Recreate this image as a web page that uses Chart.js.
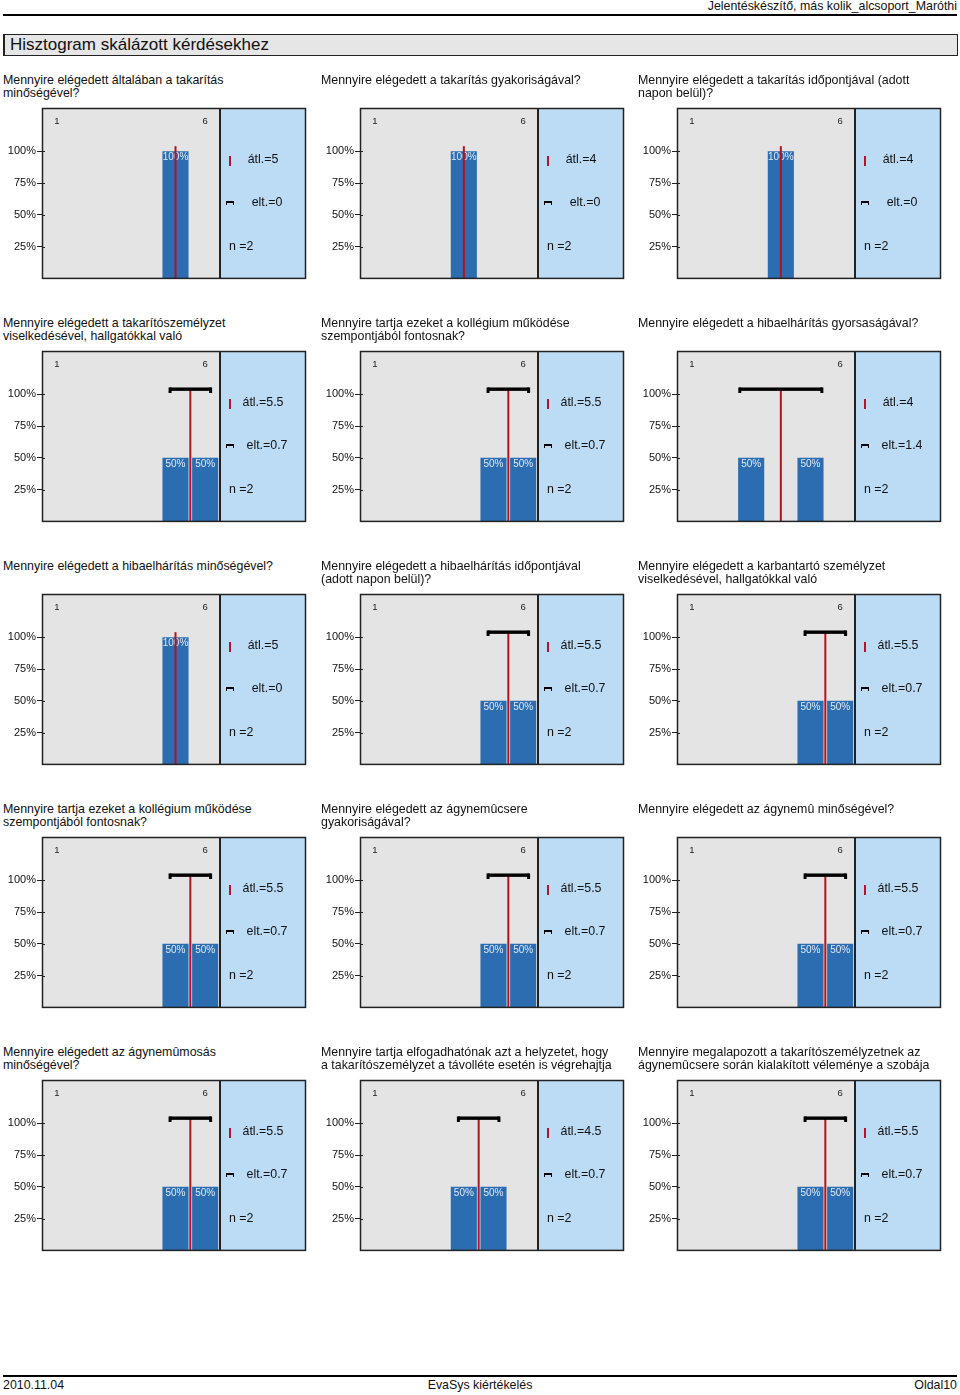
<!DOCTYPE html>
<html>
<head>
<meta charset="utf-8">
<script src="https://cdn.jsdelivr.net/npm/chart.js@4/dist/chart.umd.min.js"></script>
<style>
  body { margin: 0; width: 960px; height: 1395px; background: #fff; position: relative; font-family: 'Liberation Sans', Arial, sans-serif; color: #111; }
  .abs { position: absolute; }
  .panel { position: absolute; width: 318px; height: 230px; }
  .title { position: absolute; left: 3px; top: 0; width: 312px; font-size: 12.4px; line-height: 13px; white-space: pre-line; }
  .stats { position: absolute; left: 220px; top: 34px; width: 86px; height: 172px; font-size: 12.4px; }
  .stats div { position: absolute; }
  .mark { left: 9px; top: 48px; width: 2px; height: 10px; background: #b5122b; }
  .brk { left: 6px; top: 93px; width: 6px; height: 2px; border-top: 2px solid #000; border-left: 1.5px solid #000; border-right: 1.5px solid #000; }
</style>
</head>
<body>
<div class="abs" style="right:3px; top:-1px; font-size:12.4px;">Jelentéskészítő, más kolik_alcsoport_Maróthi</div>
<div class="abs" style="left:3px; top:14px; width:954px; height:2px; background:#000;"></div>
<div class="abs" style="left:3px; top:34px; width:952px; height:20px; background:#e6e6e6; border:1px solid #222; border-left-width:2px;"></div>
<div class="abs" style="left:10px; top:34px; font-size:17px; line-height:22px;">Hisztogram skálázott kérdésekhez</div>

<div class="abs" style="left:3px; top:1375px; width:954px; height:2px; background:#000;"></div>
<div class="abs" style="left:3px; top:1378px; font-size:12.4px;">2010.11.04</div>
<div class="abs" style="left:0; width:960px; text-align:center; top:1378px; font-size:12.4px;">EvaSys kiértékelés</div>
<div class="abs" style="right:3px; top:1378px; font-size:12.4px;">Oldal10</div>

<script>
// question texts, one per panel (reading order)
const titles = [
  'Mennyire elégedett általában a takarítás\nminőségével?',
  'Mennyire elégedett a takarítás gyakoriságával?',
  'Mennyire elégedett a takarítás időpontjával (adott\nnapon belül)?',
  'Mennyire elégedett a takarítószemélyzet\nviselkedésével, hallgatókkal való',
  'Mennyire tartja ezeket a kollégium működése\nszempontjából fontosnak?',
  'Mennyire elégedett a hibaelhárítás gyorsaságával?',
  'Mennyire elégedett a hibaelhárítás minőségével?',
  'Mennyire elégedett a hibaelhárítás időpontjával\n(adott napon belül)?',
  'Mennyire elégedett a karbantartó személyzet\nviselkedésével, hallgatókkal való',
  'Mennyire tartja ezeket a kollégium működése\nszempontjából fontosnak?',
  'Mennyire elégedett az ágynemûcsere\ngyakoriságával?',
  'Mennyire elégedett az ágynemû minőségével?',
  'Mennyire elégedett az ágynemûmosás\nminőségével?',
  'Mennyire tartja elfogadhatónak azt a helyzetet, hogy\na takarítószemélyzet a távolléte esetén is végrehajtja',
  'Mennyire megalapozott a takarítószemélyzetnek az\nágynemûcsere során kialakított véleménye a szobája'
];

const scaleLabels = ['1', '2', '3', '4', '5', '6'];
const yTicks = [25, 50, 75, 100];

// percent of answers per scale point
const pct = [
  [0, 0, 0, 0, 100, 0],
  [0, 0, 0, 100, 0, 0],
  [0, 0, 0, 100, 0, 0],
  [0, 0, 0, 0, 50, 50],
  [0, 0, 0, 0, 50, 50],
  [0, 0, 50, 0, 50, 0],
  [0, 0, 0, 0, 100, 0],
  [0, 0, 0, 0, 50, 50],
  [0, 0, 0, 0, 50, 50],
  [0, 0, 0, 0, 50, 50],
  [0, 0, 0, 0, 50, 50],
  [0, 0, 0, 0, 50, 50],
  [0, 0, 0, 0, 50, 50],
  [0, 0, 0, 50, 50, 0],
  [0, 0, 0, 0, 50, 50]
];
const means = [5, 4, 4, 5.5, 5.5, 4, 5, 5.5, 5.5, 5.5, 5.5, 5.5, 5.5, 4.5, 5.5];
const devs  = [0, 0, 0, 0.7, 0.7, 1.4, 0, 0.7, 0.7, 0.7, 0.7, 0.7, 0.7, 0.7, 0.7];
const ns    = [2, 2, 2, 2, 2, 2, 2, 2, 2, 2, 2, 2, 2, 2, 2];

const colX = [0, 318, 635];
const barColor = '#2c6db2';

const panelPlugin = {
  id: 'panel',
  beforeDraw(chart) {
    const { ctx, chartArea: a, scales } = chart;
    const top = scales.x2.top;
    ctx.save();
    ctx.fillStyle = '#e4e4e4';
    ctx.fillRect(a.left, top, a.right - a.left, a.bottom - top);
    ctx.fillStyle = '#bcdcf6';
    ctx.fillRect(a.right, top, 86, a.bottom - top);
    ctx.restore();
  },
  afterDatasetsDraw(chart, args, opts) {
    const { ctx, chartArea: a, scales } = chart;
    const x = scales.x, y = scales.y;
    const top = scales.x2.top;
    ctx.save();
    // bar percent labels
    ctx.font = '10px "Liberation Sans", Arial';
    ctx.fillStyle = '#dfe9f5';
    ctx.textAlign = 'center';
    ctx.textBaseline = 'middle';
    chart.getDatasetMeta(0).data.forEach((el, i) => {
      const v = chart.data.datasets[0].data[i];
      if (v > 0) ctx.fillText(v + '%', el.x, el.y + 6);
    });
    // mean line
    const m = opts.mean, sd = opts.sd;
    const yTop = y.getPixelForValue(104);
    const xm = x.getPixelForValue(m - 1);
    ctx.strokeStyle = '#b3121f';
    ctx.lineWidth = 2;
    ctx.beginPath();
    ctx.moveTo(xm, a.bottom);
    ctx.lineTo(xm, yTop);
    ctx.stroke();
    // std deviation bracket
    if (sd > 0) {
      const x1 = x.getPixelForValue(m - sd - 1), x2 = x.getPixelForValue(m + sd - 1);
      ctx.fillStyle = '#000';
      ctx.fillRect(x1, yTop - 1.7, x2 - x1, 3.4);
      ctx.fillRect(x1 - 1, yTop - 1.7, 3, 5.5);
      ctx.fillRect(x2 - 2, yTop - 1.7, 3, 5.5);
    }
    // inner tick stubs
    ctx.strokeStyle = '#222';
    ctx.lineWidth = 1;
    yTicks.forEach(t => {
      const ty = Math.round(y.getPixelForValue(t)) + 0.5;
      ctx.beginPath();
      ctx.moveTo(a.left, ty);
      ctx.lineTo(a.left + 3, ty);
      ctx.stroke();
    });
    // borders
    ctx.strokeStyle = '#222';
    ctx.lineWidth = 1.5;
    ctx.strokeRect(a.left + 0.5, top + 0.5, a.right - a.left + 86 - 1, a.bottom - top - 0.5);
    ctx.lineWidth = 2;
    ctx.beginPath();
    ctx.moveTo(a.right, top);
    ctx.lineTo(a.right, a.bottom);
    ctx.stroke();
    ctx.restore();
  }
};

titles.forEach((t, i) => {
  const r = Math.floor(i / 3), c = i % 3;
  const panel = document.createElement('div');
  panel.className = 'panel';
  panel.style.left = colX[c] + 'px';
  panel.style.top = (74 + r * 243) + 'px';

  const title = document.createElement('div');
  title.className = 'title';
  title.textContent = t;
  panel.appendChild(title);

  const cv = document.createElement('canvas');
  cv.width = 310; cv.height = 180;
  cv.style.cssText = 'position:absolute;left:0;top:32px;width:310px;height:180px;';
  panel.appendChild(cv);

  const stats = document.createElement('div');
  stats.className = 'stats';
  stats.innerHTML =
    '<div class="mark"></div>' +
    '<div style="left:0;width:86px;text-align:center;top:44px;">átl.=' + means[i] + '</div>' +
    '<div class="brk"></div>' +
    '<div style="left:4px;width:86px;text-align:center;top:87px;">elt.=' + devs[i] + '</div>' +
    '<div style="left:9px;top:131px;">n =' + ns[i] + '</div>';
  panel.appendChild(stats);
  document.body.appendChild(panel);

  new Chart(cv, {
    type: 'bar',
    data: {
      labels: scaleLabels,
      datasets: [{ data: pct[i], backgroundColor: barColor, barPercentage: 0.88, categoryPercentage: 1 }]
    },
    options: {
      responsive: false,
      animation: false,
      layout: { padding: { top: 2, right: 90, bottom: 6, left: 0 } },
      plugins: {
        legend: { display: false },
        tooltip: { enabled: false },
        panel: { mean: means[i], sd: devs[i] }
      },
      scales: {
        x: { display: false },
        x2: {
          type: 'category',
          labels: scaleLabels,
          position: 'top',
          offset: true,
          grid: { display: false, drawTicks: false },
          border: { display: false },
          ticks: {
            autoSkip: false, maxRotation: 0, padding: 9,
            color: '#222', font: { size: 9.5, family: '"Liberation Sans", Arial' },
            callback: (v, idx) => (idx === 0 || idx === scaleLabels.length - 1) ? scaleLabels[idx] : ''
          },
          afterFit: s => { s.height = 28; }
        },
        y: {
          min: 0, max: 112,
          afterBuildTicks: s => { s.ticks = [0].concat(yTicks).map(v => ({ value: v })); },
          border: { display: false },
          grid: {
            drawOnChartArea: false, tickLength: 5,
            color: ctx => (ctx.tick && ctx.tick.value === 0) ? 'rgba(0,0,0,0)' : '#222'
          },
          ticks: {
            padding: 1, color: '#111', font: { size: 11, family: '"Liberation Sans", Arial' },
            callback: v => v === 0 ? '' : v + '%'
          },
          afterFit: s => { s.width = 42; }
        }
      }
    },
    plugins: [panelPlugin]
  });
});
</script>
</body>
</html>
